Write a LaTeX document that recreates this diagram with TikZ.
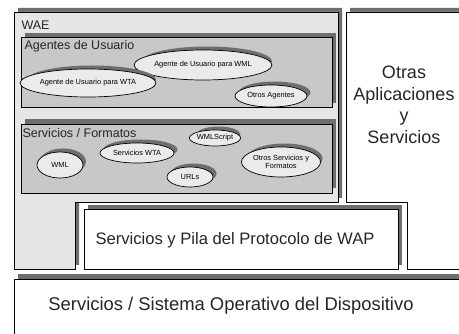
\documentclass[tikz,border=0pt]{standalone}
\usepackage{fontspec}
\setmainfont{Liberation Sans}
\definecolor{waefill}{HTML}{E6E6E6}
\definecolor{innerfill}{HTML}{C8C8C8}
\definecolor{shadowc}{HTML}{6E6E6E}
\definecolor{ellfill}{HTML}{EBEBEB}
\tikzset{
  layer/.style={draw=black, line width=0.8pt},
  shd/.style={fill=shadowc, draw=none},
  ell/.style={draw=black, line width=0.7pt, fill=ellfill, ellipse, inner sep=0pt, font=\fontsize{7.4}{8.4}\selectfont, align=center},
  ellshadow/.style={fill=shadowc, draw=none},
  bigtxt/.style={font=\fontsize{17}{21}\selectfont, align=center, text=black!85},
  midtxt/.style={font=\fontsize{12.5}{14}\selectfont, anchor=west, text=black!85},
}
\usetikzlibrary{shapes.geometric}
\begin{document}
\begin{tikzpicture}[x=1pt,y=-1pt]
\useasboundingbox (0,0) rectangle (459,334);
\clip (0,0) rectangle (459,334);
\fill[white] (0,0) rectangle (459,334);
% WAE L-shape
\fill[shd, shift={(4,-4)}] (14,12) -- (338,12) -- (338,202) -- (75,202) -- (75,269) -- (14,269) -- cycle;
\draw[layer, fill=waefill] (14,12) -- (338,12) -- (338,202) -- (75,202) -- (75,269) -- (14,269) -- cycle;
% Otras L-shape
\fill[shd, shift={(4,-4)}] (346,12) -- (470,12) -- (470,269) -- (407,269) -- (407,202) -- (346,202) -- cycle;
\draw[layer, fill=white] (346,12) -- (470,12) -- (470,269) -- (407,269) -- (407,202) -- (346,202) -- cycle;
% WAP box
\fill[shd, shift={(4,-4)}] (84,209) rectangle (398,269);
\draw[layer, fill=white] (84,209) rectangle (398,269);
% Bottom box
\fill[shd, shift={(4,-5)}] (14,279) rectangle (470,345);
\draw[layer, fill=white] (14,279) rectangle (470,345);
% Agentes box
\fill[shd, shift={(4,-4)}] (21,37) rectangle (332,107);
\draw[layer, fill=innerfill] (21,37) rectangle (332,107);
% Servicios/Formatos box
\fill[shd, shift={(4,-5)}] (21,124) rectangle (332,193);
\draw[layer, fill=innerfill] (21,124) rectangle (332,193);
% texts
\node[midtxt] (wae) at (18,25) {WAE};
\node[midtxt] (agentes) at (21,46) {Agentes de Usuario};
\node[midtxt] (servf) at (19,133) {Servicios / Formatos};
\node[bigtxt, font=\fontsize{18}{21.5}\selectfont] (otras) at (404,105) {Otras\\Aplicaciones\\y\\Servicios};
\node[bigtxt, font=\fontsize{16.6}{20}\selectfont] (wap) at (235,240) {Servicios y Pila del Protocolo de WAP};
\node[bigtxt, font=\fontsize{18.4}{21}\selectfont] (os) at (231,306) {Servicios / Sistema Operativo del Dispositivo};
% ellipses
\fill[ellshadow] (207,61.5) ellipse [x radius=65, y radius=15];
\node[ell, minimum width=130pt, minimum height=30pt] (uawml) at (203,65) {Agente de Usuario para WML};
\fill[ellshadow] (92,79.5) ellipse [x radius=64, y radius=14];
\node[ell, minimum width=128pt, minimum height=28pt] (uawta) at (88,83) {Agente de Usuario para WTA};
\fill[ellshadow] (274.5,92.5) ellipse [x radius=36, y radius=11];
\node[ell, minimum width=72pt, minimum height=22pt] (otrosag) at (271,96) {Otros Agentes};
\fill[ellshadow] (63,161.5) ellipse [x radius=23, y radius=13];
\node[ell, minimum width=46pt, minimum height=26pt] (wml) at (60,165) {WML};
\fill[ellshadow] (140.5,149.5) ellipse [x radius=37, y radius=10];
\node[ell, minimum width=74pt, minimum height=20pt] (swta) at (137,153) {Servicios WTA};
\fill[ellshadow] (193.5,173.5) ellipse [x radius=23, y radius=10];
\node[ell, minimum width=46pt, minimum height=20pt] (urls) at (190,177) {URLs};
\fill[ellshadow] (218.5,134.5) ellipse [x radius=22, y radius=8];
\node[ell, minimum width=44pt, minimum height=16pt] (wmls) at (215,138) {WMLScript};
\fill[ellshadow] (284.5,158.5) ellipse [x radius=38, y radius=15];
\node[ell, minimum width=76pt, minimum height=30pt] (otrossf) at (281,162) {Otros Servicios y\\Formatos};
\end{tikzpicture}
\end{document}
